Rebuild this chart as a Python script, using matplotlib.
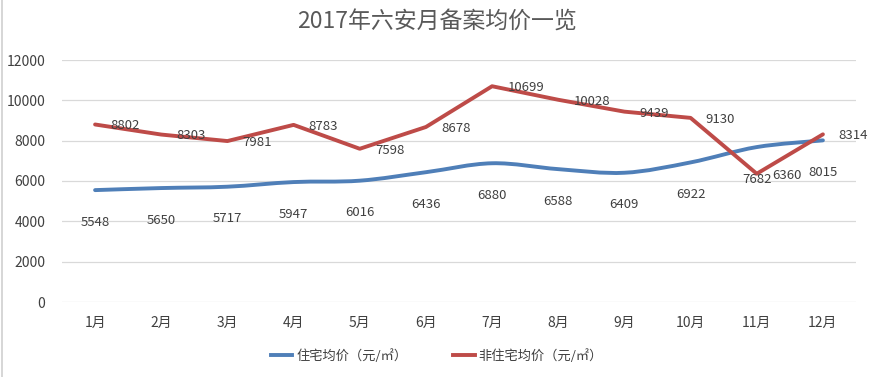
import numpy as np
import matplotlib
matplotlib.use("Agg")
import matplotlib.pyplot as plt
from matplotlib.path import Path
from matplotlib.patches import PathPatch
from matplotlib.lines import Line2D

plt.rcParams['font.family'] = ['Noto Sans CJK SC', 'DejaVu Sans']

months = ['1月', '2月', '3月', '4月', '5月', '6月', '7月', '8月', '9月', '10月', '11月', '12月']
residential = [5548, 5650, 5717, 5947, 6016, 6436, 6880, 6588, 6409, 6922, 7682, 8015]
non_residential = [8802, 8303, 7981, 8783, 7598, 8678, 10699, 10028, 9439, 9130, 6360, 8314]

blue = '#4f7fb8'
red = '#be4b48'
text_c = '#404040'


def smooth_path(xs, ys, tension=1/6):
    # Excel-style smoothed line: cubic bezier through the points
    xs = np.asarray(xs, float)
    ys = np.asarray(ys, float)
    verts = [(xs[0], ys[0])]
    codes = [Path.MOVETO]
    n = len(xs)
    for i in range(n - 1):
        p0 = i - 1 if i > 0 else i
        p3 = i + 2 if i + 2 < n else i + 1
        c1 = (xs[i] + (xs[i + 1] - xs[p0]) * tension, ys[i] + (ys[i + 1] - ys[p0]) * tension)
        c2 = (xs[i + 1] - (xs[p3] - xs[i]) * tension, ys[i + 1] - (ys[p3] - ys[i]) * tension)
        verts += [c1, c2, (xs[i + 1], ys[i + 1])]
        codes += [Path.CURVE4] * 3
    return Path(verts, codes)


fig = plt.figure(figsize=(8.75, 3.77), dpi=100)
ax = fig.add_axes([62 / 875, 1 - 302 / 377, 794 / 875, 242 / 377])

x = np.arange(len(months))
ax.add_patch(PathPatch(smooth_path(x, residential), facecolor='none',
                       edgecolor=blue, lw=2.8, capstyle='round', zorder=3))
ax.plot(x, non_residential, color=red, lw=2.8, solid_joinstyle='round',
        solid_capstyle='round', zorder=3)

for xi, v in zip(x, residential):
    ax.annotate(str(v), (xi, v), xytext=(0, -23), textcoords='offset points',
                ha='center', va='center', fontsize=9.5, color=text_c, zorder=4)
for xi, v in zip(x, non_residential):
    ax.annotate(str(v), (xi, v), xytext=(11, -1), textcoords='offset points',
                ha='left', va='center', fontsize=9.5, color=text_c, zorder=4)

ax.set_xlim(-0.5, len(months) - 0.5)
ax.set_ylim(0, 12000)
ax.set_yticks(range(0, 12001, 2000))
ax.set_xticks(x)
ax.set_xticklabels(months)
ax.tick_params(axis='both', length=0, labelsize=10, labelcolor=text_c)
ax.tick_params(axis='x', pad=10)
ax.tick_params(axis='y', pad=12)
ax.grid(axis='y', color='#d9d9d9', lw=0.9)
ax.set_axisbelow(True)
for s in ax.spines.values():
    s.set_visible(False)

fig.text(437 / 875, 1 - 22 / 377, '2017年六安月备案均价一览', ha='center', va='center',
         fontsize=16.5, color='#595959')

handles = [Line2D([], [], color=blue, lw=2.8), Line2D([], [], color=red, lw=2.8)]
fig.legend(handles, ['住宅均价（元/㎡）', '非住宅均价（元/㎡）'], loc='center',
           bbox_to_anchor=(437 / 875, 1 - 356 / 377), ncol=2, frameon=False,
           fontsize=9.5, labelcolor=text_c, handlelength=1.6, handletextpad=0.3,
           columnspacing=3.5)

fig.add_artist(Line2D([1.5 / 875, 1.5 / 875], [0, 1], color='#d0d0d0', lw=1.2))

fig.savefig('out.png', dpi=100, facecolor='white')
